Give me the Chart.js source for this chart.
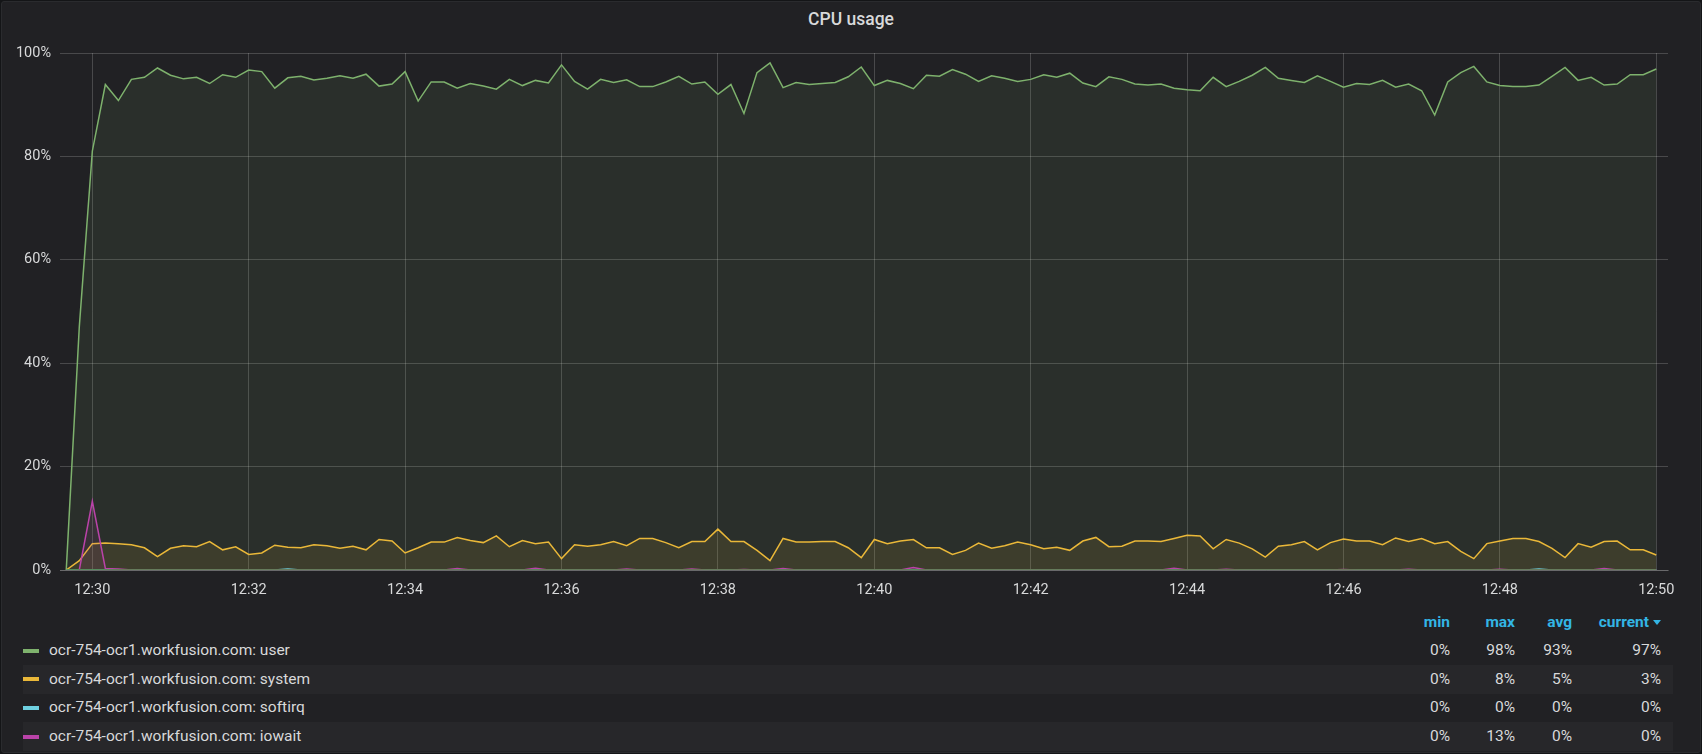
<!DOCTYPE html>
<html>
<head>
<meta charset="utf-8">
<title>CPU usage</title>
<script src="https://cdn.jsdelivr.net/npm/chart.js@4.4.1/dist/chart.umd.min.js"></script>
<style>
  html, body { margin: 0; padding: 0; background: #141517; }
  body { position: relative; width: 1702px; height: 754px; overflow: hidden;
         font-family: Roboto, "Noto Sans", sans-serif; color: #d8d9da; }
  .panel { position: absolute; left: 1px; top: 1px; width: 1698px; height: 750px;
           background: #212124; border: 1px solid #2a2b2e; border-radius: 3px; }
  .title { position: absolute; left: 0; top: 8px; width: 1702px; height: 23px; line-height: 23px;
           text-align: center; font-size: 17.5px; font-weight: 500; color: #d8d9da; }
  .chart-wrap { position: absolute; left: 0; top: 0; width: 1702px; height: 605px; }
  .legend-row { position: absolute; left: 23px; width: 1650px; height: 29px; line-height: 29px;
                font-size: 15.5px; white-space: nowrap; }
  .legend-row.odd { background: #27272a; }
  .swatch { position: absolute; left: 0; top: 12.5px; width: 16px; height: 4px; }
  .name { position: absolute; left: 26px; top: 0; }
  .stat { position: absolute; top: 0; text-align: right; }
  .head { color: #33b5e5; font-weight: 700; }
  .caret { display: inline-block; margin-left: 4px; width: 0; height: 0; vertical-align: 2px;
           border-left: 4.5px solid transparent; border-right: 4.5px solid transparent;
           border-top: 5px solid #33b5e5; }
</style>
</head>
<body>
<div class="panel"></div>
<div class="title">CPU usage</div>
<div class="chart-wrap"><canvas id="cpuChart"></canvas></div>
<div id="legend"></div>
<script>
// samples every 10 s, first one at 12:29:40 (seconds relative to 12:30:00)
const firstSample = -20;
const sampleStep = 10;

const userSeries = [
  0, 47, 81, 93.9, 90.8, 94.9, 95.3, 97.1, 95.7, 95.0,
  95.3, 94.1, 95.8, 95.3, 96.7, 96.4, 93.2, 95.2, 95.5, 94.8,
  95.1, 95.6, 95.1, 95.9, 93.6, 94.0, 96.4, 90.7, 94.4, 94.4,
  93.2, 94.1, 93.6, 93.0, 94.9, 93.7, 94.7, 94.2, 97.7, 94.5,
  93.0, 94.9, 94.3, 94.8, 93.5, 93.5, 94.4, 95.5, 94.0, 94.4,
  92.0, 93.9, 88.3, 96.2, 98.1, 93.3, 94.3, 93.9, 94.1, 94.3,
  95.4, 97.3, 93.7, 94.7, 94.1, 93.1, 95.7, 95.5, 96.8, 95.9,
  94.5, 95.6, 95.1, 94.5, 94.9, 95.8, 95.3, 96.1, 94.2, 93.5,
  95.4, 94.9, 94.0, 93.8, 94.0, 93.2, 92.9, 92.7, 95.3, 93.5,
  94.5, 95.7, 97.2, 95.1, 94.7, 94.3, 95.6, 94.5, 93.4, 94.1,
  93.9, 94.7, 93.4, 94.0, 92.7, 88.0, 94.4, 96.2, 97.4, 94.4,
  93.7, 93.5, 93.5, 93.8, 95.5, 97.2, 94.7, 95.3, 93.8, 94.0,
  95.8, 95.8, 96.9
];
const systemSeries = [
  0, 1.8, 5.1, 5.2, 5.1, 4.9, 4.3, 2.6, 4.2, 4.7,
  4.5, 5.5, 3.9, 4.5, 3.0, 3.3, 4.8, 4.4, 4.3, 4.9,
  4.7, 4.2, 4.6, 3.9, 5.9, 5.6, 3.3, 4.3, 5.4, 5.4,
  6.3, 5.7, 5.3, 6.6, 4.5, 5.7, 5.1, 5.4, 2.2, 4.9,
  4.6, 4.9, 5.5, 4.7, 6.1, 6.1, 5.3, 4.3, 5.5, 5.5,
  7.9, 5.5, 5.5, 3.8, 1.8, 6.1, 5.4, 5.4, 5.5, 5.5,
  4.3, 2.4, 5.9, 5.1, 5.6, 5.9, 4.3, 4.3, 3.0, 3.8,
  5.2, 4.2, 4.7, 5.4, 4.9, 4.1, 4.4, 3.8, 5.6, 6.3,
  4.5, 4.6, 5.6, 5.6, 5.5, 6.1, 6.7, 6.6, 4.1, 5.9,
  5.2, 4.1, 2.5, 4.6, 4.9, 5.5, 3.9, 5.3, 6.0, 5.6,
  5.6, 4.9, 6.2, 5.5, 6.1, 5.1, 5.5, 3.6, 2.2, 5.1,
  5.6, 6.1, 6.1, 5.5, 4.2, 2.4, 5.1, 4.4, 5.5, 5.6,
  3.9, 3.9, 2.9
];
const softirqSeries = [
  0, 0, 0, 0, 0, 0, 0, 0, 0, 0,
  0, 0, 0, 0, 0, 0, 0, 0.2, 0, 0,
  0, 0, 0, 0, 0, 0, 0, 0, 0, 0,
  0, 0, 0, 0, 0, 0, 0, 0, 0, 0,
  0, 0, 0, 0, 0, 0, 0, 0, 0, 0,
  0, 0, 0, 0, 0, 0, 0, 0, 0, 0,
  0, 0, 0, 0, 0, 0, 0, 0, 0, 0,
  0, 0, 0, 0, 0, 0, 0, 0, 0, 0,
  0, 0, 0, 0, 0, 0, 0, 0, 0, 0,
  0, 0, 0, 0, 0, 0, 0, 0, 0, 0,
  0, 0, 0, 0, 0, 0, 0, 0, 0, 0,
  0, 0, 0, 0.2, 0, 0, 0, 0, 0, 0,
  0, 0, 0
];
const iowaitSeries = [
  null, 0, 13.3, 0.3, 0.2, 0, 0, 0, 0, 0,
  0, 0, 0, 0, 0, 0, 0, 0, 0, 0,
  0, 0, 0, 0, 0, 0, 0, 0, 0, 0,
  0.3, 0, 0, 0, 0, 0, 0.35, 0, 0, 0,
  0, 0, 0, 0.2, 0, 0, 0, 0, 0.2, 0,
  0, 0, 0.1, 0, 0, 0.3, 0, 0, 0, 0,
  0, 0, 0, 0, 0, 0.5, 0, 0, 0, 0,
  0, 0, 0, 0, 0, 0, 0, 0, 0, 0,
  0, 0, 0, 0, 0, 0.35, 0, 0, 0, 0.15,
  0, 0, 0, 0, 0, 0, 0, 0, 0.1, 0,
  0, 0, 0, 0.15, 0, 0, 0, 0, 0, 0,
  0.15, 0, 0, 0, 0, 0, 0, 0, 0.3, 0,
  0, 0, 0
];
// a zero-only series that is hidden from the legend table but still drawn
const hiddenZeroSeries = userSeries.map(() => 0);

const xTickSeconds = [0, 120, 240, 360, 480, 600, 720, 840, 960, 1080, 1200];
const xTickLabels = ['12:30', '12:32', '12:34', '12:36', '12:38', '12:40',
                     '12:42', '12:44', '12:46', '12:48', '12:50'];
const yTickValues = [0, 20, 40, 60, 80, 100];

const seriesNames = [
  'ocr-754-ocr1.workfusion.com: user',
  'ocr-754-ocr1.workfusion.com: system',
  'ocr-754-ocr1.workfusion.com: softirq',
  'ocr-754-ocr1.workfusion.com: iowait'
];
const seriesColors = ['#7eb26d', '#eab839', '#6ed0e0', '#ba43a9'];
const statHeaders = ['min', 'max', 'avg', 'current'];
const statMin = ['0%', '0%', '0%', '0%'];
const statMax = ['98%', '8%', '0%', '13%'];
const statAvg = ['93%', '5%', '0%', '0%'];
const statCurrent = ['97%', '3%', '0%', '0%'];

const sampleSeconds = userSeries.map((_, i) => firstSample + i * sampleStep);

function fade(hex, a) {
  const n = parseInt(hex.slice(1), 16);
  return 'rgba(' + (n >> 16) + ',' + ((n >> 8) & 255) + ',' + (n & 255) + ',' + a + ')';
}

function lineSet(label, data, color, order, fill) {
  return {
    label: label,
    data: data,
    borderColor: color,
    backgroundColor: fade(color, 0.1),
    borderWidth: 1.5,
    pointRadius: 0,
    tension: 0,
    fill: fill ? 'origin' : false,
    order: order
  };
}

const gridColor = 'rgba(255,255,255,0.18)';
const tickFont = { family: 'Roboto', size: 14.5 };

Chart.defaults.font.family = 'Roboto';

new Chart(document.getElementById('cpuChart').getContext('2d'), {
  type: 'line',
  data: {
    labels: sampleSeconds,
    datasets: [
      lineSet(seriesNames[0], userSeries, seriesColors[0], 5, true),
      lineSet(seriesNames[1], systemSeries, seriesColors[1], 4, true),
      lineSet(seriesNames[2], softirqSeries, seriesColors[2], 3, true),
      lineSet(seriesNames[3], iowaitSeries, seriesColors[3], 2, true),
      lineSet('hidden', hiddenZeroSeries, '#508642', 1, false)
    ]
  },
  options: {
    responsive: true,
    maintainAspectRatio: false,
    animation: false,
    events: [],
    layout: { padding: { top: 53, right: 34, left: 0, bottom: 0 } },
    plugins: { legend: { display: false }, tooltip: { enabled: false }, title: { display: false } },
    scales: {
      x: {
        type: 'linear',
        min: -24.8,
        max: 1209,
        afterBuildTicks: s => { s.ticks = xTickSeconds.map(v => ({ value: v })); },
        afterFit: s => { s.height = 35; },
        ticks: {
          autoSkip: false,
          maxRotation: 0,
          padding: 12,
          color: '#d8d9da',
          font: tickFont,
          callback: (v, i) => xTickLabels[i]
        },
        grid: { color: gridColor, drawTicks: false },
        border: { display: true, color: gridColor }
      },
      y: {
        min: 0,
        max: 100,
        afterBuildTicks: s => { s.ticks = yTickValues.map(v => ({ value: v })); },
        afterFit: s => { s.width = 60; },
        ticks: {
          padding: 9,
          color: '#d8d9da',
          font: tickFont,
          callback: v => v + '%'
        },
        grid: { color: gridColor, drawTicks: false },
        border: { display: false }
      }
    }
  }
});

// legend table
const legend = document.getElementById('legend');
const statRight = [1450, 1515, 1572, 1661];
const headerY = 622;
const rowY = [650.5, 679.2, 707.9, 736.6];

function addRow(centerY, cls) {
  const row = document.createElement('div');
  row.className = 'legend-row' + (cls ? ' ' + cls : '');
  row.style.top = (centerY - 14.5) + 'px';
  legend.appendChild(row);
  return row;
}
function addStat(row, text, right, extra) {
  const s = document.createElement('div');
  s.className = 'stat' + (extra ? ' ' + extra : '');
  s.style.right = (1673 - right) + 'px';
  s.textContent = text;
  row.appendChild(s);
  return s;
}

const head = addRow(headerY);
statHeaders.forEach((h, j) => {
  const s = addStat(head, h, statRight[j], 'head');
  if (h === 'current') {
    const c = document.createElement('span');
    c.className = 'caret';
    s.appendChild(c);
  }
});

seriesNames.forEach((name, i) => {
  const row = addRow(rowY[i], i % 2 === 1 ? 'odd' : '');
  const sw = document.createElement('div');
  sw.className = 'swatch';
  sw.style.background = seriesColors[i];
  row.appendChild(sw);
  const n = document.createElement('div');
  n.className = 'name';
  n.textContent = name;
  row.appendChild(n);
  [statMin, statMax, statAvg, statCurrent].forEach((col, j) => addStat(row, col[i], statRight[j]));
});
</script>
</body>
</html>
